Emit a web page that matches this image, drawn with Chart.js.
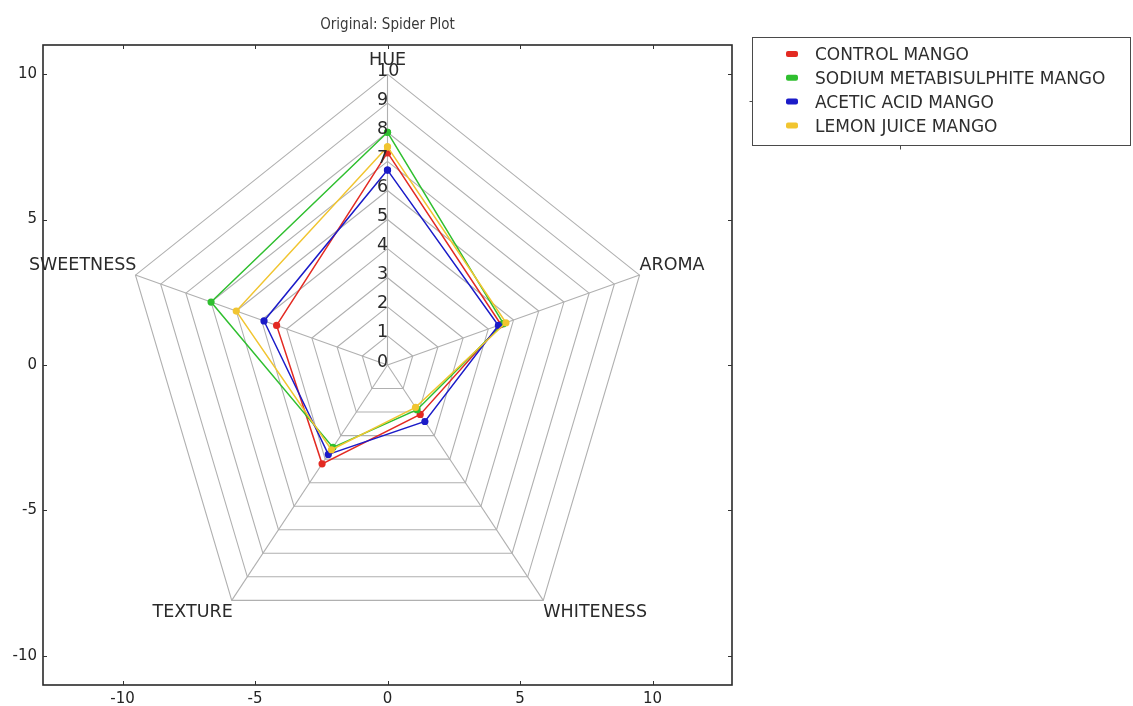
<!DOCTYPE html>
<html>
<head>
<meta charset="utf-8">
<script src="https://cdn.jsdelivr.net/npm/chart.js@4.4.1/dist/chart.umd.min.js"></script>
<style>
  html, body { margin: 0; padding: 0; background: #ffffff; overflow: hidden; }
  #wrap { position: relative; width: 1133px; height: 706px; }
</style>
</head>
<body>
<div id="wrap"><canvas id="c" width="1133" height="706"></canvas></div>
<script>
// Sensory attributes, clockwise from the top spoke
const attributes = ['HUE', 'AROMA', 'WHITENESS', 'TEXTURE', 'SWEETNESS'];

// Panel scores per sample, in attribute order
const seriesNames = ['CONTROL MANGO', 'SODIUM METABISULPHITE MANGO', 'ACETIC ACID MANGO', 'LEMON JUICE MANGO'];
const controlMango = [7.3, 4.5, 2.1, 4.2, 4.4];
const sodiumMango  = [8.0, 4.6, 1.9, 3.5, 7.0];
const aceticMango  = [6.7, 4.4, 2.4, 3.8, 4.9];
const lemonMango   = [7.5, 4.7, 1.8, 3.6, 6.0];
const seriesColors = ['#e32a22', '#2fbf2f', '#1b1bc8', '#f1c530'];

// Radial score rings and the cartesian axis ticks
const ringLevels = [0, 1, 2, 3, 4, 5, 6, 7, 8, 9, 10];
const axisTicks = [-10, -5, 0, 5, 10];

const seriesValues = [controlMango, sodiumMango, aceticMango, lemonMango];
const maxLevel = ringLevels[ringLevels.length - 1];

function spokeAngle(i) {
  return (90 - 360 / attributes.length * i) * Math.PI / 180;
}
function polar(v, i) {
  const a = spokeAngle(i);
  return { x: v * Math.cos(a), y: v * Math.sin(a) };
}
function closedLoop(values) {
  const pts = values.map((v, i) => polar(v, i));
  pts.push(pts[0]);
  return pts;
}

const datasets = [];
// web rings
ringLevels.slice(1).forEach(r => {
  datasets.push({
    data: closedLoop(attributes.map(() => r)),
    showLine: true, borderColor: '#b0b0b0', borderWidth: 1.1,
    pointRadius: 0, fill: false, order: 20
  });
});
// spokes
attributes.forEach((_, i) => {
  datasets.push({
    data: [polar(0, i), polar(maxLevel, i)],
    showLine: true, borderColor: '#b0b0b0', borderWidth: 1.1,
    pointRadius: 0, fill: false, order: 20
  });
});
// samples (later samples drawn on top)
seriesValues.forEach((vals, k) => {
  datasets.push({
    label: seriesNames[k],
    data: closedLoop(vals),
    showLine: true,
    borderColor: seriesColors[k],
    backgroundColor: seriesColors[k],
    pointBackgroundColor: seriesColors[k],
    pointBorderColor: seriesColors[k],
    borderWidth: 1.5,
    pointRadius: 3.6,
    pointBorderWidth: 0,
    fill: false,
    order: seriesValues.length - k
  });
});

const FONT = "'DejaVu Sans', 'Noto Sans', sans-serif";

const decor = {
  id: 'spiderDecor',
  afterDatasetsDraw(chart) {
    const ctx = chart.ctx;
    const xs = chart.scales.x, ys = chart.scales.y;
    const px = p => xs.getPixelForValue(p.x);
    const py = p => ys.getPixelForValue(p.y);
    ctx.save();

    // radial score labels along the top spoke
    ctx.fillStyle = '#2a2a2a';
    ctx.font = '17.5px ' + FONT;
    ctx.textAlign = 'left';
    ctx.textBaseline = 'middle';
    ringLevels.forEach(r => {
      const p = polar(r, 0);
      ctx.fillText(String(r), px(p) - 10.5, py(p) - 3);
    });

    // attribute names at the outer vertices
    attributes.forEach((name, i) => {
      const a = spokeAngle(i);
      const p = polar(maxLevel, i);
      const vx = px(p), vy = py(p);
      const c = Math.cos(a), s = Math.sin(a);
      ctx.textBaseline = 'alphabetic';
      let x = vx;
      if (c > 0.1) { ctx.textAlign = 'left'; x = vx; }
      else if (c < -0.1) { ctx.textAlign = 'right'; x = vx + 1; }
      else { ctx.textAlign = 'center'; }
      let y;
      if (s > 0) y = vy - (Math.abs(c) < 0.1 ? 9.5 : 5);
      else y = vy + 17;
      ctx.fillText(name, x, y);
    });
    ctx.restore();
  },
  afterDraw(chart) {
    const ctx = chart.ctx;
    const a = chart.chartArea;
    const xs = chart.scales.x, ys = chart.scales.y;
    ctx.save();

    // axes frame
    ctx.strokeStyle = '#2a2a2a';
    ctx.lineWidth = 1.6;
    ctx.strokeRect(a.left, a.top, a.right - a.left, a.bottom - a.top);

    // inward tick marks on all four sides
    ctx.lineWidth = 1;
    ctx.strokeStyle = '#333';
    ctx.beginPath();
    axisTicks.forEach(v => {
      const x = Math.round(xs.getPixelForValue(v)) + 0.5;
      ctx.moveTo(x, a.bottom); ctx.lineTo(x, a.bottom - 4);
      ctx.moveTo(x, a.top); ctx.lineTo(x, a.top + 4);
      const y = Math.round(ys.getPixelForValue(v)) + 0.5;
      ctx.moveTo(a.left, y); ctx.lineTo(a.left + 4, y);
      ctx.moveTo(a.right, y); ctx.lineTo(a.right - 4, y);
    });
    ctx.stroke();

    // title
    ctx.fillStyle = '#3a3a3a';
    ctx.font = "15px 'Liberation Sans Narrow', 'DejaVu Sans Condensed', 'Liberation Sans', sans-serif";
    ctx.textAlign = 'center';
    ctx.textBaseline = 'middle';
    ctx.fillText('Original: Spider Plot', (a.left + a.right) / 2, 25);

    // legend box
    const L = { left: 752.5, top: 37.5, right: 1130.5, bottom: 145.5 };
    ctx.strokeStyle = '#4a4a4a';
    ctx.lineWidth = 1;
    ctx.strokeRect(L.left, L.top, L.right - L.left, L.bottom - L.top);
    ctx.beginPath();
    ctx.moveTo(L.left, 101.5); ctx.lineTo(L.left - 3, 101.5);
    ctx.moveTo(900.5, L.bottom); ctx.lineTo(900.5, L.bottom + 4);
    ctx.stroke();

    ctx.font = '17px ' + FONT;
    ctx.textAlign = 'left';
    ctx.textBaseline = 'alphabetic';
    seriesNames.forEach((name, k) => {
      const rowY = 54 + k * 23.8;
      ctx.fillStyle = seriesColors[k];
      ctx.beginPath();
      if (ctx.roundRect) ctx.roundRect(786, rowY - 3, 12, 6, 2); else ctx.rect(786, rowY - 3, 12, 6);
      ctx.fill();
      ctx.fillStyle = '#2e2e2e';
      ctx.fillText(name, 815, rowY + 6.2);
    });
    ctx.restore();
  }
};

const tickFont = { family: FONT, size: 15 };

new Chart(document.getElementById('c'), {
  type: 'scatter',
  data: { datasets },
  options: {
    responsive: false,
    devicePixelRatio: 1,
    animation: false,
    events: [],
    layout: { padding: { top: 45, right: 401, left: 0, bottom: 0 } },
    plugins: {
      legend: { display: false },
      tooltip: { enabled: false },
      title: { display: false }
    },
    elements: { line: { tension: 0 } },
    scales: {
      x: {
        type: 'linear', position: 'bottom', min: -13, max: 13,
        grid: { display: false, drawTicks: false },
        border: { display: false },
        ticks: { font: tickFont, color: '#242424', padding: 5, includeBounds: false },
        afterBuildTicks: s => { s.ticks = axisTicks.map(v => ({ value: v })); },
        afterFit: s => { s.height = 21; }
      },
      y: {
        type: 'linear', position: 'left', min: -11, max: 11,
        grid: { display: false, drawTicks: false },
        border: { display: false },
        ticks: { font: tickFont, color: '#242424', padding: 6, includeBounds: false },
        afterBuildTicks: s => { s.ticks = axisTicks.map(v => ({ value: v })); },
        afterFit: s => { s.width = 43; }
      }
    }
  },
  plugins: [decor]
});
</script>
</body>
</html>
